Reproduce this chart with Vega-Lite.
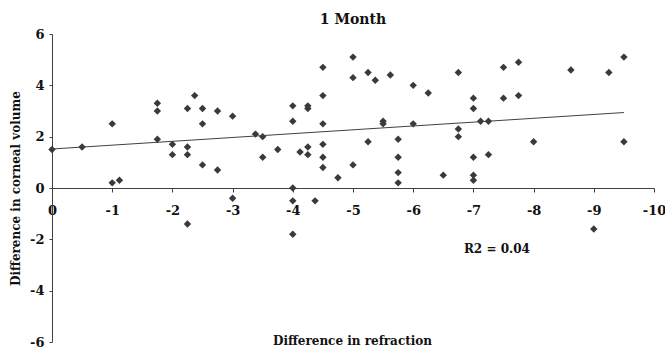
{
  "$schema": "https://vega.github.io/schema/vega-lite/v6.json",
  "width": 602,
  "height": 308,
  "autosize": "none",
  "padding": {"left": 52, "top": 34, "right": 11, "bottom": 5},
  "background": "white",
  "config": {
    "view": {"stroke": null},
    "font": "DejaVu Serif",
    "axis": {"grid": false, "domainColor": "#404040", "tickColor": "#404040", "labelColor": "#111111", "titleColor": "#111111", "labelFont": "DejaVu Serif", "titleFont": "DejaVu Serif", "labelFontWeight": "bold", "titleFontWeight": "bold"}
  },
  "title": {"text": "1 Month", "font": "DejaVu Serif", "fontSize": 14, "fontWeight": "bold", "color": "#111111", "anchor": "middle", "baseline": "alphabetic", "offset": 10, "dy": 20},
  "datasets": {
    "points": [
      {"refraction": 0, "volume": 1.5},
      {"refraction": -0.5, "volume": 1.6},
      {"refraction": -1, "volume": 2.5},
      {"refraction": -1, "volume": 0.2},
      {"refraction": -1.12, "volume": 0.3},
      {"refraction": -1.75, "volume": 3.3},
      {"refraction": -1.75, "volume": 3.0},
      {"refraction": -1.75, "volume": 1.9},
      {"refraction": -2, "volume": 1.7},
      {"refraction": -2, "volume": 1.3},
      {"refraction": -2.25, "volume": 1.6},
      {"refraction": -2.25, "volume": 1.3},
      {"refraction": -2.25, "volume": 3.1},
      {"refraction": -2.25, "volume": -1.4},
      {"refraction": -2.37, "volume": 3.6},
      {"refraction": -2.5, "volume": 3.1},
      {"refraction": -2.5, "volume": 2.5},
      {"refraction": -2.5, "volume": 0.9},
      {"refraction": -2.75, "volume": 3.0},
      {"refraction": -2.75, "volume": 0.7},
      {"refraction": -3, "volume": 2.8},
      {"refraction": -3, "volume": -0.4},
      {"refraction": -3.38, "volume": 2.1},
      {"refraction": -3.5, "volume": 2.0},
      {"refraction": -3.5, "volume": 1.2},
      {"refraction": -3.75, "volume": 1.5},
      {"refraction": -4, "volume": 3.2},
      {"refraction": -4, "volume": 2.6},
      {"refraction": -4, "volume": 0},
      {"refraction": -4, "volume": -0.5},
      {"refraction": -4, "volume": -1.8},
      {"refraction": -4.12, "volume": 1.4},
      {"refraction": -4.25, "volume": 3.2},
      {"refraction": -4.25, "volume": 3.1},
      {"refraction": -4.25, "volume": 1.6},
      {"refraction": -4.25, "volume": 1.3},
      {"refraction": -4.37, "volume": -0.5},
      {"refraction": -4.5, "volume": 4.7},
      {"refraction": -4.5, "volume": 3.6},
      {"refraction": -4.5, "volume": 2.5},
      {"refraction": -4.5, "volume": 1.7},
      {"refraction": -4.5, "volume": 1.2},
      {"refraction": -4.5, "volume": 0.8},
      {"refraction": -4.75, "volume": 0.4},
      {"refraction": -5, "volume": 5.1},
      {"refraction": -5, "volume": 4.3},
      {"refraction": -5, "volume": 0.9},
      {"refraction": -5.25, "volume": 4.5},
      {"refraction": -5.25, "volume": 1.8},
      {"refraction": -5.37, "volume": 4.2},
      {"refraction": -5.5, "volume": 2.6},
      {"refraction": -5.5, "volume": 2.5},
      {"refraction": -5.62, "volume": 4.4},
      {"refraction": -5.75, "volume": 1.9},
      {"refraction": -5.75, "volume": 1.2},
      {"refraction": -5.75, "volume": 0.6},
      {"refraction": -5.75, "volume": 0.2},
      {"refraction": -6, "volume": 4.0},
      {"refraction": -6, "volume": 2.5},
      {"refraction": -6.25, "volume": 3.7},
      {"refraction": -6.5, "volume": 0.5},
      {"refraction": -6.75, "volume": 4.5},
      {"refraction": -6.75, "volume": 2.3},
      {"refraction": -6.75, "volume": 2.0},
      {"refraction": -7, "volume": 3.5},
      {"refraction": -7, "volume": 3.1},
      {"refraction": -7, "volume": 1.2},
      {"refraction": -7, "volume": 0.5},
      {"refraction": -7, "volume": 0.3},
      {"refraction": -7.12, "volume": 2.6},
      {"refraction": -7.25, "volume": 2.6},
      {"refraction": -7.25, "volume": 1.3},
      {"refraction": -7.5, "volume": 4.7},
      {"refraction": -7.5, "volume": 3.5},
      {"refraction": -7.75, "volume": 4.9},
      {"refraction": -7.75, "volume": 3.6},
      {"refraction": -8, "volume": 1.8},
      {"refraction": -8.62, "volume": 4.6},
      {"refraction": -9, "volume": -1.6},
      {"refraction": -9.25, "volume": 4.5},
      {"refraction": -9.5, "volume": 5.1},
      {"refraction": -9.5, "volume": 1.8}
    ],
    "trend": [
      {"refraction": 0, "volume": 1.52},
      {"refraction": -9.5, "volume": 2.94}
    ],
    "note": [
      {"refraction": -7.39, "volume": -2.36, "label": "R2 = 0.04"}
    ]
  },
  "layer": [
    {
      "data": {"name": "points"},
      "mark": {"type": "point", "shape": "diamond", "filled": true, "size": 55, "color": "#3a3a3a", "opacity": 1},
      "encoding": {
        "x": {"field": "refraction", "type": "quantitative",
          "scale": {"domain": [0, -10], "nice": false, "zero": false},
          "axis": {"orient": "bottom", "offset": -154, "values": [0, -1, -2, -3, -4, -5, -6, -7, -8, -9, -10], "labelExpr": "'' + datum.value", "labelFontSize": 13, "labelPadding": 12, "tickSize": 4, "labelFlush": false, "labelOverlap": false,
            "title": "Difference in refraction", "titleFontSize": 12, "titleBaseline": "alphabetic", "titleY": 156, "titleX": 300, "titleAnchor": null, "titleAlign": "center"}},
        "y": {"field": "volume", "type": "quantitative",
          "scale": {"domain": [-6, 6], "nice": false, "zero": false},
          "axis": {"values": [-6, -4, -2, 0, 2, 4, 6], "labelExpr": "'' + datum.value", "labelFontSize": 13, "labelPadding": 5, "tickSize": 3, "labelFlush": false, "labelOverlap": false,
            "title": "Difference in corneal volume", "titleFontSize": 12, "titleAngle": -90, "titleBaseline": "middle", "titleX": -37, "titleY": 154, "titleAlign": "center"}}
      }
    },
    {
      "data": {"name": "trend"},
      "mark": {"type": "line", "color": "#404040", "strokeWidth": 1},
      "encoding": {
        "x": {"field": "refraction", "type": "quantitative"},
        "y": {"field": "volume", "type": "quantitative"}
      }
    },
    {
      "data": {"name": "note"},
      "mark": {"type": "text", "font": "DejaVu Serif", "fontWeight": "bold", "fontSize": 12, "color": "#111111", "align": "center", "baseline": "middle"},
      "encoding": {
        "x": {"field": "refraction", "type": "quantitative"},
        "y": {"field": "volume", "type": "quantitative"},
        "text": {"field": "label"}
      }
    }
  ]
}
